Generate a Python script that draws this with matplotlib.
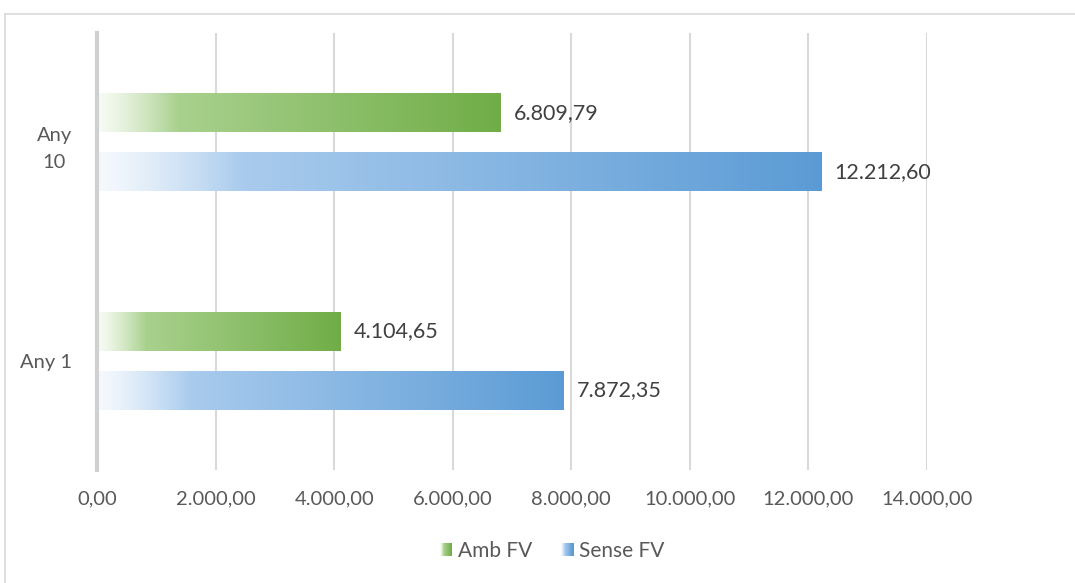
import numpy as np
import matplotlib
matplotlib.use("Agg")
import matplotlib.pyplot as plt
from matplotlib.colors import to_rgb
from matplotlib.patches import Rectangle
from matplotlib.legend_handler import HandlerBase
from matplotlib.lines import Line2D

# Dades
categories = ["Any 1", "Any\n10"]
series = ["Amb FV", "Sense FV"]
amb_fv = [4104.65, 6809.79]
sense_fv = [7872.35, 12212.60]
xticks = [0, 2000, 4000, 6000, 8000, 10000, 12000, 14000]

# colors: (inici, punt clar, final)
colors = {
    "Amb FV": ("#f7fbf4", "#a9d18e", "#70ad47"),
    "Sense FV": ("#f5f9fd", "#a9cbed", "#5b9bd5"),
}

plt.rcParams['font.family'] = ['Lato', 'DejaVu Sans']


def fmt(v):
    s = f"{v:,.2f}"
    return s.replace(",", "X").replace(".", ",").replace("X", ".")


def gradient(nom, n=300, stop=0.2):
    c0, c1, c2 = [np.array(to_rgb(c)) for c in colors[nom]]
    t = np.linspace(0, 1, n)
    out = np.zeros((n, 3))
    for i, ti in enumerate(t):
        if ti < stop:
            f = (ti / stop) ** 1.3
            out[i] = c0 + (c1 - c0) * f
        else:
            f = (ti - stop) / (1 - stop)
            out[i] = c1 + (c2 - c1) * f
    return out


class HandlerGradient(HandlerBase):
    def create_artists(self, legend, orig_handle, xdescent, ydescent,
                       width, height, fontsize, trans):
        nom = orig_handle.get_label()
        g = gradient(nom, n=12, stop=0.3)
        arts = []
        w = width / len(g)
        for i, c in enumerate(g):
            r = Rectangle((-xdescent + i * w, -ydescent), w * 1.05, height,
                          facecolor=c, edgecolor='none', transform=trans)
            arts.append(r)
        return arts


fig = plt.figure(figsize=(10.75, 5.83), dpi=100)
ax = fig.add_axes([97 / 1075, 1 - 470 / 583, (927 - 97) / 1075, (470 - 33) / 583])

y = np.arange(len(categories))
h = 0.178
off = 0.135

for vals, nom, dy in [(amb_fv, "Amb FV", off), (sense_fv, "Sense FV", -off)]:
    g = gradient(nom)[np.newaxis, :, :]
    for yi, v in zip(y, vals):
        ax.imshow(g, extent=(0, v, yi + dy - h / 2, yi + dy + h / 2),
                  aspect='auto', interpolation='bilinear', zorder=2)
        ax.text(v + 230, yi + dy, fmt(v), va='center', ha='left',
                fontsize=15.5, color='#404040')

ax.set_xlim(0, 14000)
ax.set_ylim(-0.5, 1.5)
ax.set_xticks(xticks)
ax.set_xticklabels([fmt(t) for t in xticks], fontsize=14.5, color='#595959')
ax.set_yticks(y)
ax.set_yticklabels(categories, fontsize=14.5, color='#595959')
for lab in ax.get_yticklabels():
    lab.set_multialignment('center')
    lab.set_linespacing(1.75)
ax.tick_params(axis='both', length=0)
ax.tick_params(axis='x', pad=15)
ax.tick_params(axis='y', pad=18)

ax.grid(axis='x', color='#d9d9d9', linewidth=1.5, zorder=0)
ax.set_axisbelow(True)
for s in ['top', 'right', 'bottom']:
    ax.spines[s].set_visible(False)
ax.spines['left'].set_color('#d0d0d0')
ax.spines['left'].set_linewidth(3)

handles = [Rectangle((0, 0), 1, 1, label=n) for n in series]
ax.legend(handles=handles, labels=series, loc='center',
          bbox_to_anchor=((552 - 97) / (927 - 97), (470 - 551) / (470 - 33)),
          ncol=2, frameon=False, fontsize=15, handlelength=0.6, handleheight=0.6,
          handletextpad=0.25, columnspacing=1.4,
          handler_map={Rectangle: HandlerGradient()}, labelcolor='#595959')

# marc del gràfic
fig.add_artist(Line2D([5 / 1075, 5 / 1075], [0, 1 - 14 / 583], color='#d9d9d9', linewidth=1.2))
fig.add_artist(Line2D([5 / 1075, 1], [1 - 14 / 583, 1 - 14 / 583], color='#d9d9d9', linewidth=1.2))

fig.savefig("out.png", dpi=100)
